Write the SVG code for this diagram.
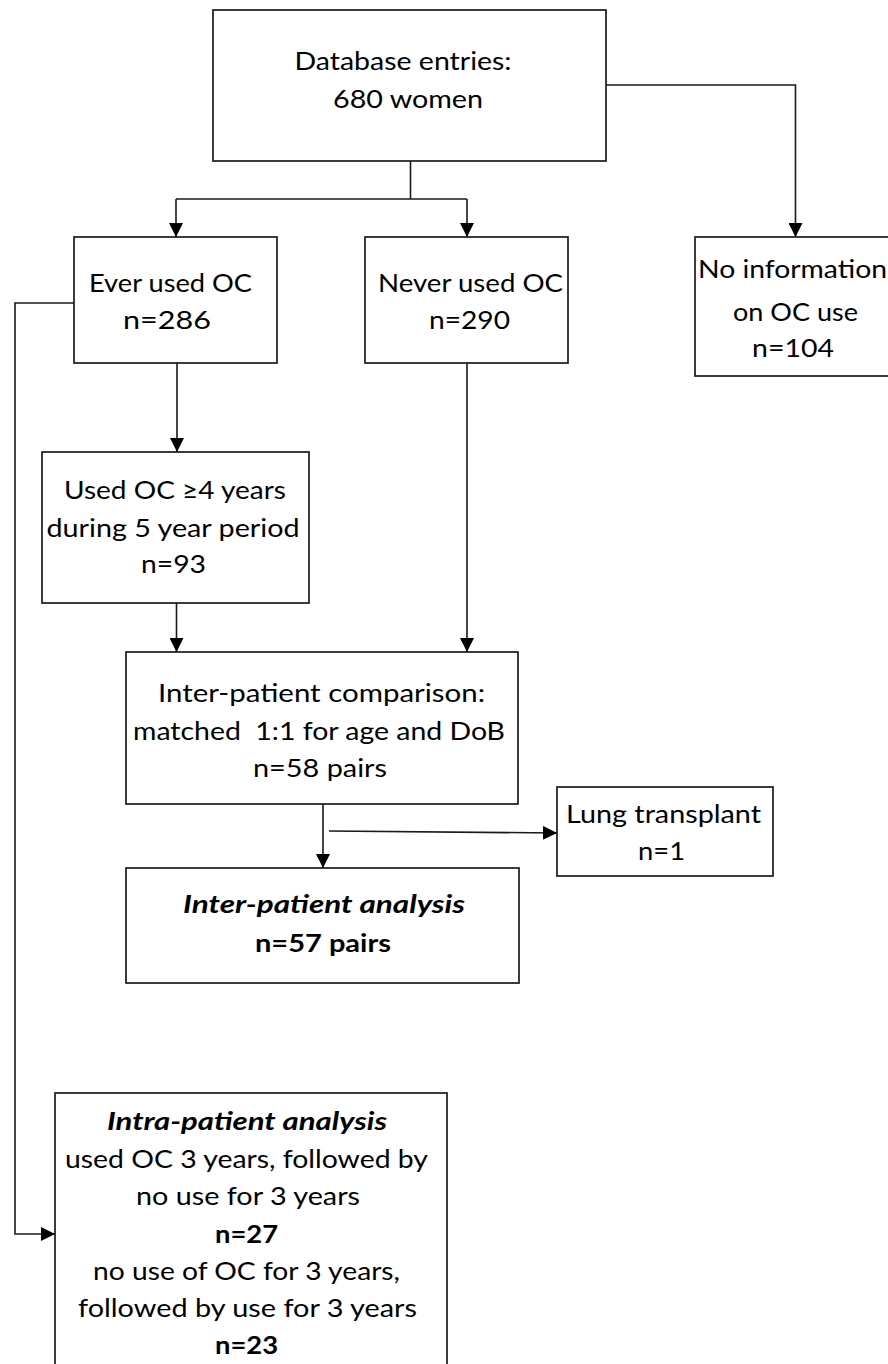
<svg xmlns="http://www.w3.org/2000/svg" width="888" height="1364" viewBox="0 0 888 1364">
<style>
.box{fill:#fff;stroke:#1a1a1a;stroke-width:1.7}
.ln{fill:none;stroke:#1a1a1a;stroke-width:1.6}
text{font-family:Lato,"Liberation Sans",sans-serif;font-size:25px;fill:#000;text-anchor:middle}
.b{font-weight:bold}
.bi{font-weight:bold;font-style:italic}
</style>
<defs>
<marker id="ah" markerUnits="userSpaceOnUse" markerWidth="14" markerHeight="14" viewBox="0 0 12 12" refX="12" refY="6" orient="auto">
<path d="M0,0 L12,6 L0,12 Z" fill="#000"/>
</marker>
</defs>
<g id="connectors">
<path class="ln" d="M410.5,161 V199 M176,199 H467"/>
<path class="ln" d="M176,199 V237" marker-end="url(#ah)"/>
<path class="ln" d="M467,199 V237" marker-end="url(#ah)"/>
<path class="ln" d="M606,85 H795.5 V237" marker-end="url(#ah)"/>
<path class="ln" d="M177,363 V452" marker-end="url(#ah)"/>
<path class="ln" d="M176.5,603 V652" marker-end="url(#ah)"/>
<path class="ln" d="M467,363 V652" marker-end="url(#ah)"/>
<path class="ln" d="M74,303 H15 V1234 H55" marker-end="url(#ah)"/>
<path class="ln" d="M323,804 V868" marker-end="url(#ah)"/>
<path class="ln" d="M329,831 L557,833" marker-end="url(#ah)"/>
</g>
<g id="database">
<rect class="box" x="213" y="10" width="393" height="151"/>
<text x="403" y="70" textLength="217" lengthAdjust="spacingAndGlyphs">Database entries:</text>
<text x="408" y="108" textLength="150" lengthAdjust="spacingAndGlyphs">680 women</text>
</g>
<g id="ever">
<rect class="box" x="74" y="237" width="203" height="126"/>
<text x="170.5" y="292" textLength="163" lengthAdjust="spacingAndGlyphs">Ever used OC</text>
<text x="167" y="329" textLength="88" lengthAdjust="spacingAndGlyphs">n=286</text>
</g>
<g id="never">
<rect class="box" x="365" y="237" width="203" height="126"/>
<text x="470.5" y="292" textLength="185" lengthAdjust="spacingAndGlyphs">Never used OC</text>
<text x="469.5" y="329" textLength="81" lengthAdjust="spacingAndGlyphs">n=290</text>
</g>
<g id="noinfo">
<rect class="box" x="695" y="237" width="200" height="139"/>
<text x="792.5" y="278" textLength="189" lengthAdjust="spacingAndGlyphs">No information</text>
<text x="795.5" y="321" textLength="125" lengthAdjust="spacingAndGlyphs">on OC use</text>
<text x="793" y="357" textLength="82" lengthAdjust="spacingAndGlyphs">n=104</text>
</g>
<g id="used4">
<rect class="box" x="42" y="452" width="267" height="151"/>
<text x="175" y="499" textLength="222" lengthAdjust="spacingAndGlyphs">Used OC ≥4 years</text>
<text x="173" y="537" textLength="253" lengthAdjust="spacingAndGlyphs">during 5 year period</text>
<text x="173.5" y="573" textLength="65" lengthAdjust="spacingAndGlyphs">n=93</text>
</g>
<g id="intercomp">
<rect class="box" x="126" y="652" width="392" height="152"/>
<text x="321.5" y="702" textLength="327" lengthAdjust="spacingAndGlyphs">Inter-patient comparison:</text>
<text x="319" y="740" textLength="372" lengthAdjust="spacingAndGlyphs" xml:space="preserve">matched  1:1 for age and DoB</text>
<text x="320" y="777" textLength="134" lengthAdjust="spacingAndGlyphs">n=58 pairs</text>
</g>
<g id="lung">
<rect class="box" x="557" y="787" width="216" height="89"/>
<text x="663.5" y="823" textLength="195" lengthAdjust="spacingAndGlyphs">Lung transplant</text>
<text x="661.5" y="860" textLength="47" lengthAdjust="spacingAndGlyphs">n=1</text>
</g>
<g id="interanalysis">
<rect class="box" x="126" y="868" width="393" height="115"/>
<text class="bi" x="324" y="913" textLength="282" lengthAdjust="spacingAndGlyphs">Inter-patient analysis</text>
<text class="b" x="323" y="952" textLength="136" lengthAdjust="spacingAndGlyphs">n=57 pairs</text>
</g>
<g id="intra">
<rect class="box" x="55" y="1093" width="392" height="290"/>
<text class="bi" x="247" y="1130" textLength="280" lengthAdjust="spacingAndGlyphs">Intra-patient analysis</text>
<text x="246.5" y="1168" textLength="363" lengthAdjust="spacingAndGlyphs">used OC 3 years, followed by</text>
<text x="248" y="1205" textLength="224" lengthAdjust="spacingAndGlyphs">no use for 3 years</text>
<text class="b" x="246.5" y="1243" textLength="63" lengthAdjust="spacingAndGlyphs">n=27</text>
<text x="246.5" y="1280" textLength="307" lengthAdjust="spacingAndGlyphs">no use of OC for 3 years,</text>
<text x="247.5" y="1317" textLength="339" lengthAdjust="spacingAndGlyphs">followed by use for 3 years</text>
<text class="b" x="246.5" y="1354" textLength="63" lengthAdjust="spacingAndGlyphs">n=23</text>
</g>
</svg>
